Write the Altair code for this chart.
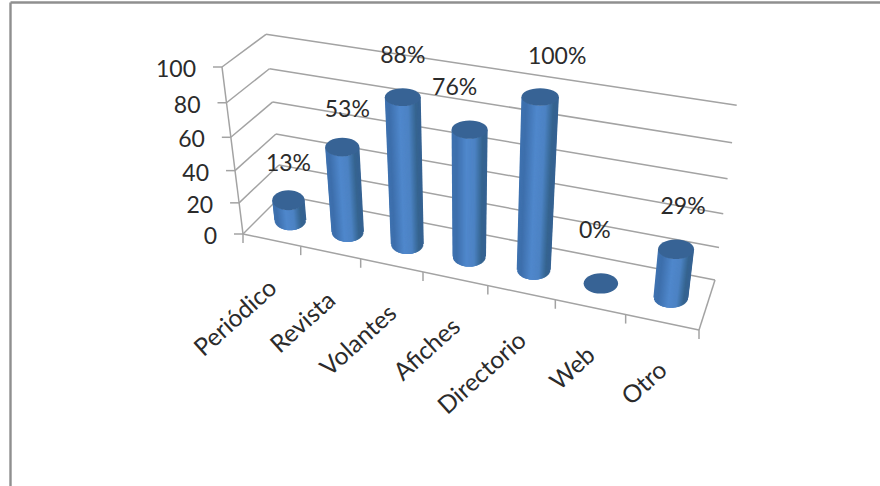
import altair as alt
import numpy as np
import pandas as pd

# Survey results per advertising channel
categories = ["Periódico", "Revista", "Volantes", "Afiches", "Directorio", "Web", "Otro"]
values = [13, 53, 88, 76, 100, 0, 29]
value_labels = ["13%", "53%", "88%", "76%", "100%", "0%", "29%"]
axis_ticks = [0, 20, 40, 60, 80, 100]

WIDTH, HEIGHT = 880, 486
FONT = "Lato"
LINE = "#a3a3a3"
INK = "#2b2b2b"

# Box corners of the 3D plot on screen: (front/back, left/right) at height 0 and 100
FL0, FR0, BL0, BR0 = (243, 234), (699, 330), (282, 195), (715, 280)
FL1, FR1, BL1, BR1 = (222, 67), (722, 148), (266, 34.3), (736.7, 105.3)

# Foreshortening of the category and value directions
U_WARP, W_WARP = 1.15, 1.09


def warp(t, r):
    return t / (t + r * (1 - t)) if t > 0 else 0.0


def project(u, depth, w):
    """Map category position, depth (0 front, 1 back) and value to screen space."""
    s = warp(u / len(categories), U_WARP)
    h = warp(w / 100, W_WARP)

    def edge(a, b):
        return np.array(a) * (1 - s) + np.array(b) * s

    low = edge(FL0, FR0) * (1 - depth) + edge(BL0, BR0) * depth
    high = edge(FL1, FR1) * (1 - depth) + edge(BL1, BR1) * depth
    return low * (1 - h) + high * h


def seg(a, b):
    return {"x": a[0], "y": a[1], "x2": b[0], "y2": b[1]}


# Walls, floor and tick marks
frame = []
for v in axis_ticks:
    front, back_l, back_r = project(0, 0, v), project(0, 1, v), project(7, 1, v)
    frame.append(seg(front, back_l))
    frame.append(seg(back_l, back_r))
    frame.append(seg(front - np.array([9, 0]), front))
frame.append(seg(project(0, 0, 0), project(0, 0, 100)))
frame.append(seg(project(0, 0, 0), project(7, 0, 0)))
frame.append(seg(project(7, 0, 0), project(7, 1, 0)))
for u in range(len(categories) + 1):
    p = project(u, 0, 0)
    frame.append(seg(p, p + np.array([0, 9])))

# Cylinder bodies as overlapping vertical strips, shaded by position across the bar
STRIP = 2.0
strips, caps = [], []
for i, val in enumerate(values):
    t = val / 100
    base = project(i + 0.5, 0.5, 0)
    top = project(i + 0.5, 0.5, val)
    rx_base = 16 + 0.25 * i
    rx_top = rx_base * (1 + 0.1 * t)
    ry_base, ry_top = 10.0, 10.2 - 1.5 * t
    ratio = ry_top / rx_top
    caps.append({
        "x": top[0], "y": top[1], "size": (2 * rx_top) ** 2,
        "path": f"M-1,0A1,{ratio:.3f},0,1,1,1,0A1,{ratio:.3f},0,1,1,-1,0Z",
    })
    if val == 0:
        continue
    for f in np.linspace(-1, 1, 61):
        arc = np.sqrt(max(0.0, 1 - f * f))
        strips.append({
            "x": base[0] + f * (rx_base - STRIP / 2), "y": base[1] + ry_base * arc,
            "x2": top[0] + f * (rx_top - STRIP / 2), "y2": top[1] + ry_top * arc,
            "f": f,
        })

tick_text = []
for v in axis_ticks:
    p = project(0, 0, v)
    tick_text.append({"x": p[0] - 26, "y": p[1] + 3, "text": str(v)})

cat_text = []
for i, c in enumerate(categories):
    p = project(i + 0.5, 0, 0)
    cat_text.append({"x": p[0] + 2, "y": p[1] + 45, "text": c})

# Hand-placed offsets of the value labels relative to each bar top
label_dx = [0, 5, 0, -15, 17, -6, 7]
label_dy = [-36, -37, -41, -42, -40, -52, -42]
val_text = []
for i, (val, lab) in enumerate(zip(values, value_labels)):
    p = project(i + 0.5, 0.5, val)
    val_text.append({"x": p[0] + label_dx[i], "y": p[1] + label_dy[i], "text": lab})

X = alt.X("x:Q", scale=alt.Scale(domain=[0, WIDTH], range=[0, WIDTH]), axis=None)
Y = alt.Y("y:Q", scale=alt.Scale(domain=[0, HEIGHT], range=[0, HEIGHT]), axis=None)
X2, Y2 = alt.X2("x2:Q"), alt.Y2("y2:Q")


def rules(rows, **kw):
    return alt.Chart(pd.DataFrame(rows)).mark_rule(**kw).encode(x=X, y=Y, x2=X2, y2=Y2)


border = rules([{"x": 10.5, "y": 2.5, "x2": 880, "y2": 2.5},
                {"x": 10.5, "y": 2.5, "x2": 10.5, "y2": 486}],
               color="#8f8f8f", strokeWidth=2.4)
grid = rules(frame, color=LINE, strokeWidth=1.5)

bodies = alt.Chart(pd.DataFrame(strips)).mark_rule(strokeWidth=STRIP).encode(
    x=X, y=Y, x2=X2, y2=Y2,
    color=alt.Color("f:Q", legend=None, scale=alt.Scale(
        domain=[-1, -0.75, -0.15, 0.35, 0.8, 1],
        range=["#3f72b0", "#3d6fac", "#5088cc", "#4d83c4", "#36648f", "#356292"])),
)

cap_marks = alt.Chart(pd.DataFrame(caps)).mark_point(
    filled=True, opacity=1, color="#376395", strokeWidth=0
).encode(
    x=X, y=Y,
    size=alt.Size("size:Q", scale=None, legend=None),
    shape=alt.Shape("path:N", scale=None, legend=None),
)


def texts(rows, size, **kw):
    return alt.Chart(pd.DataFrame(rows)).mark_text(font=FONT, fontSize=size, color=INK, **kw).encode(
        x=X, y=Y, text="text:N")


chart = alt.layer(
    border, grid, bodies, cap_marks,
    texts(tick_text, 23, align="right", baseline="middle"),
    texts(cat_text, 24.5, align="right", baseline="middle", angle=318),
    texts(val_text, 23, align="center", baseline="middle"),
).resolve_scale(color="independent").properties(
    width=WIDTH, height=HEIGHT, padding=0, autosize=alt.AutoSizeParams(type="none"),
    background="white",
).configure_view(strokeWidth=0)

chart.save("out.html", embed_options={"renderer": "svg", "actions": False})
